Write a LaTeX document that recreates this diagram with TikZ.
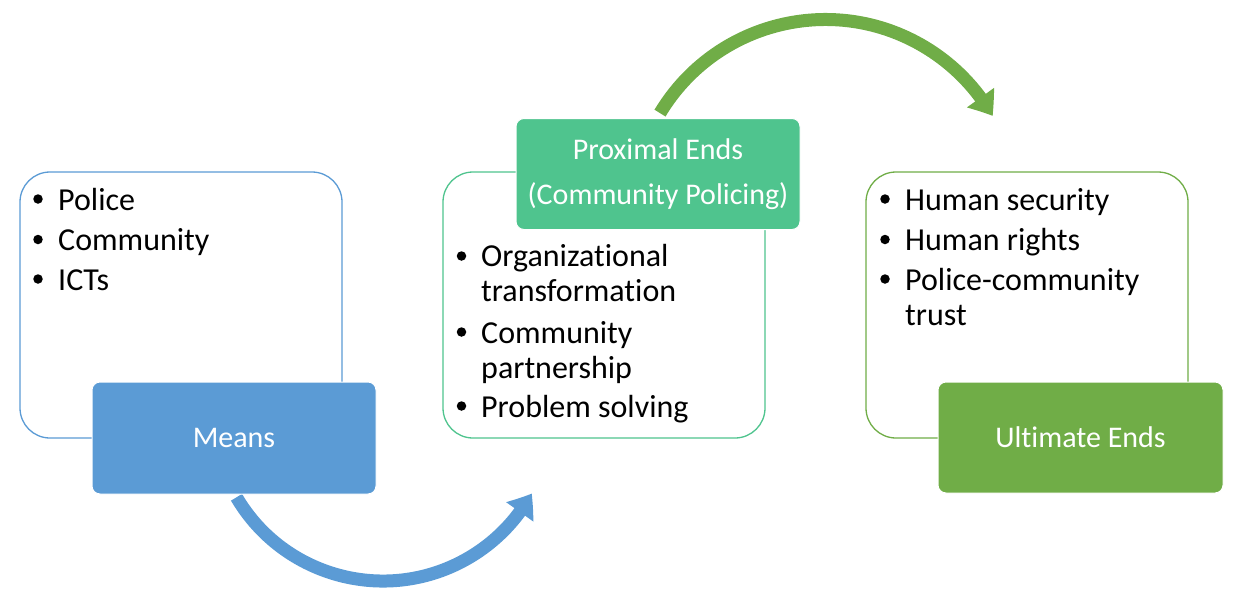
\documentclass[tikz,border=0pt]{standalone}
\usepackage{fontspec}
\setmainfont{Carlito}[Ligatures=NoCommon]
\usetikzlibrary{arrows.meta,bending}
\definecolor{mblue}{HTML}{5B9BD5}
\definecolor{mteal}{HTML}{4FC48E}
\definecolor{mgreen}{HTML}{70AD47}
\begin{document}
\begin{tikzpicture}[x=1pt,y=-1pt,
  frame/.style={rounded corners=30pt, line width=1.3pt, fill=white, inner sep=0pt, outer sep=0pt, minimum width=322pt, minimum height=266pt},
  labelbox/.style={rounded corners=8pt, draw=white, line width=1pt, text=white, inner sep=0pt, outer sep=0pt, font=\fontsize{30}{45}\selectfont, align=center},
  listtxt/.style={anchor=base west, inner sep=0pt, font=\fontsize{32}{35}\selectfont, text=black},
  bul/.style={circle, fill=black, inner sep=0pt, minimum size=9.5pt},
  band/.style={line width=13pt, -{Triangle[width=32pt,length=22pt,bend]}}
]
\useasboundingbox (0,0) rectangle (1243,603);

% frames
\node[frame, draw=mblue] (f1) at (181,305) {};
\node[frame, draw=mteal] (f2) at (604,305) {};
\node[frame, draw=mgreen] (f3) at (1027,305) {};

% arrows
\coordinate (bs) at (236.5,497.3);
\draw[band, mblue] (bs) arc[start angle=149.5, end angle=29, radius=170];
\coordinate (gs) at (660,113.1);
\draw[band, mgreen] (gs) arc[start angle=211, end angle=330, radius=193];

% labels
\node[labelbox, fill=mblue, minimum width=284pt, minimum height=112pt] (means) at (234,438) {Means};
\node[labelbox, fill=mteal, minimum width=284pt, minimum height=111pt] (prox) at (658,174) {Proximal Ends\\(Community Policing)};
\node[labelbox, fill=mgreen, minimum width=285pt, minimum height=111pt] (ult) at (1080.5,437.5) {Ultimate Ends};

% left list
\node[bul] (b11) at (38,199) {};
\node[bul] (b12) at (38,239.5) {};
\node[bul] (b13) at (38,279) {};
\node[listtxt] (t11) at (58,210) {Police};
\node[listtxt] (t12) at (58,250.5) {Community};
\node[listtxt] (t13) at (58,290) {ICTs};

% middle list
\node[bul] (b21) at (461.5,256) {};
\node[bul] (b22) at (461.5,332) {};
\node[bul] (b23) at (461.5,406) {};
\node[listtxt] (t21) at (481,266.7) {Organizational};
\node[listtxt] (t22) at (481,301.7) {transformation};
\node[listtxt] (t23) at (481,343) {Community};
\node[listtxt] (t24) at (481,378) {partnership};
\node[listtxt] (t25) at (481,417) {Problem solving};

% right list
\node[bul] (b31) at (885,199) {};
\node[bul] (b32) at (885,239.5) {};
\node[bul] (b33) at (885,279) {};
\node[listtxt] (t31) at (905,210) {Human security};
\node[listtxt] (t32) at (905,250) {Human rights};
\node[listtxt] (t33) at (905,290) {Police-community};
\node[listtxt] (t34) at (905,325) {trust};
\end{tikzpicture}
\end{document}
